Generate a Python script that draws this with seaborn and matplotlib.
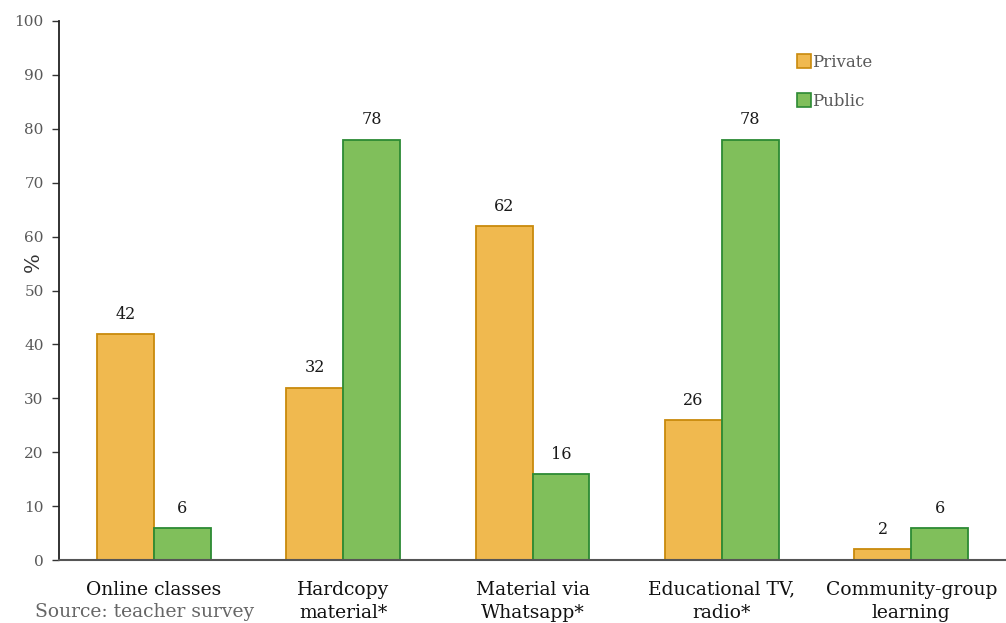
import matplotlib
matplotlib.use("Agg")
import matplotlib.pyplot as plt
import seaborn as sns
import pandas as pd
from matplotlib.lines import Line2D

categories = ["Online classes", "Hardcopy\nmaterial*", "Material via\nWhatsapp*",
              "Educational TV,\nradio*", "Community-group\nlearning"]
private_vals = [42, 32, 62, 26, 2]
public_vals = [6, 78, 16, 78, 6]
series = ["Private", "Public"]
yticks = list(range(0, 101, 10))

fill_colors = {"Private": "#F0B94F", "Public": "#80BF5B"}
edge_colors = {"Private": "#C98A0C", "Public": "#2C8A34"}

df = pd.DataFrame({
    "category": categories * 2,
    "value": private_vals + public_vals,
    "sector": ["Private"] * len(categories) + ["Public"] * len(categories),
})

sns.set_style("white")
plt.rcParams["font.family"] = ["DejaVu Serif"]

fig = plt.figure(figsize=(10.06, 6.23), dpi=100)
ax = fig.add_axes([59 / 1006, 63 / 623, 1 - 59 / 1006, (560 - 21) / 623])

sns.barplot(data=df, x="category", y="value", hue="sector", hue_order=series,
            order=categories, palette=fill_colors, width=0.6, dodge=True,
            legend=False, ax=ax, errorbar=None, saturation=1)

for container, name in zip(ax.containers, series):
    for bar in container:
        bar.set_edgecolor(edge_colors[name])
        bar.set_linewidth(1.3)
    ax.bar_label(container, padding=8, fontsize=11.5, color="#1a1a1a")

ax.set_xlim(-0.5, 4.5)
ax.set_ylim(0, 100)
ax.set_yticks(yticks)
ax.set_yticklabels([str(t) for t in yticks], fontsize=11, color="#595959")
ax.tick_params(axis="y", length=5, width=1, color="#333333", left=True, pad=6)
ax.tick_params(axis="x", length=0, labelsize=13.5, labelcolor="#111111", pad=15)
for lbl in ax.get_xticklabels():
    lbl.set_linespacing(1.35)
ax.set_xlabel("")
ax.set_ylabel("")

for side in ["top", "right"]:
    ax.spines[side].set_visible(False)
ax.spines["left"].set_color("#222222")
ax.spines["left"].set_linewidth(1.3)
ax.spines["bottom"].set_color("#555555")
ax.spines["bottom"].set_linewidth(1.5)

# axis title sits between the 50 and 60 tick labels
fig.text(33 / 1006, 1 - 262 / 623, "%", fontsize=15, color="#333333",
         rotation=90, ha="center", va="center")

handles = [Line2D([], [], marker="s", linestyle="none", markersize=10,
                  markerfacecolor=fill_colors[s], markeredgecolor=edge_colors[s],
                  markeredgewidth=1.2) for s in series]
leg = ax.legend(handles, series, loc="upper left", bbox_to_anchor=(0.764, 0.966),
                frameon=False, fontsize=12, handletextpad=0.1, labelspacing=1.3,
                handlelength=0.8)
for t in leg.get_texts():
    t.set_color("#595959")

fig.text(35 / 1006, 11 / 623, "Source: teacher survey", fontsize=13.5,
         color="#666666", va="center", ha="left")

fig.savefig("out.png", dpi=100)
